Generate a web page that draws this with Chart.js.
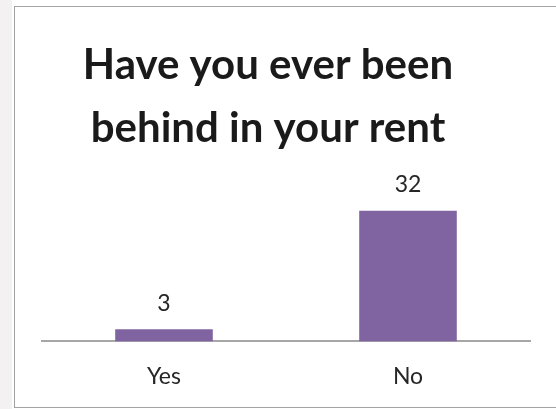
<!DOCTYPE html>
<html>
<head>
<meta charset="utf-8">
<script src="https://cdn.jsdelivr.net/npm/chart.js@4.4.0/dist/chart.umd.min.js"></script>
<style>
  html, body { margin: 0; padding: 0; background: #ffffff; }
  #wrap { position: relative; width: 556px; height: 409px; overflow: hidden; }
  #strip { position: absolute; left: 0; top: 0; width: 12px; height: 409px; background: #f3f1f1; }
  #frame { position: absolute; left: 14px; top: 6px; width: 560px; height: 400px; border: 1px solid #a3a3a3; border-width: 1px 0 1px 1px; }
  canvas { position: absolute; left: 0; top: 0; }
</style>
</head>
<body>
<div id="wrap">
  <div id="strip"></div>
  <div id="frame"></div>
  <canvas id="myChart" width="556" height="409"></canvas>
</div>
<script>
// respuestas de la encuesta
const categories = ['Yes', 'No'];
const answers = [3, 32];
const titleLines = ['Have you ever been', 'behind in your rent'];

// titulo en dos lineas, centrado sobre el recuadro
const titlePlugin = {
  id: 'titleLines',
  afterDraw(chart) {
    const ctx = chart.ctx;
    ctx.save();
    ctx.fillStyle = '#1a1a1a';
    ctx.font = 'bold 42px Lato';
    ctx.textAlign = 'center';
    ctx.textBaseline = 'alphabetic';
    titleLines.forEach((line, i) => {
      ctx.fillText(line, 268, 79 + i * 63);
    });
    ctx.restore();
  }
};

// numero encima de cada barra
const valueLabels = {
  id: 'valueLabels',
  afterDatasetsDraw(chart) {
    const ctx = chart.ctx;
    const meta = chart.getDatasetMeta(0);
    ctx.save();
    ctx.fillStyle = '#262626';
    ctx.font = '23px Lato';
    ctx.textAlign = 'center';
    ctx.textBaseline = 'middle';
    meta.data.forEach((bar, i) => {
      ctx.fillText(String(answers[i]), bar.x, bar.y - 26);
    });
    ctx.restore();
  }
};

const ctx = document.getElementById('myChart').getContext('2d');
const myChart = new Chart(ctx, {
  type: 'bar',
  data: {
    labels: categories,
    datasets: [{
      data: answers,
      backgroundColor: '#8064a2',
      borderWidth: 0,
      categoryPercentage: 0.4,
      barPercentage: 1.0
    }]
  },
  options: {
    responsive: false,
    animation: false,
    // el eje x reserva el doble del padding de las etiquetas, por eso el inferior es negativo
    layout: { padding: { left: 42, right: 26, top: 178, bottom: -2 } },
    plugins: {
      legend: { display: false },
      title: { display: false },
      tooltip: { enabled: false }
    },
    scales: {
      x: {
        grid: { display: false, drawTicks: false },
        border: { display: true, color: '#a6a6a6', width: 2 },
        ticks: { color: '#262626', font: { family: 'Lato', size: 23 }, padding: 21 }
      },
      y: {
        display: false,
        min: 0,
        max: 40
      }
    }
  },
  plugins: [titlePlugin, valueLabels]
});
</script>
</body>
</html>
